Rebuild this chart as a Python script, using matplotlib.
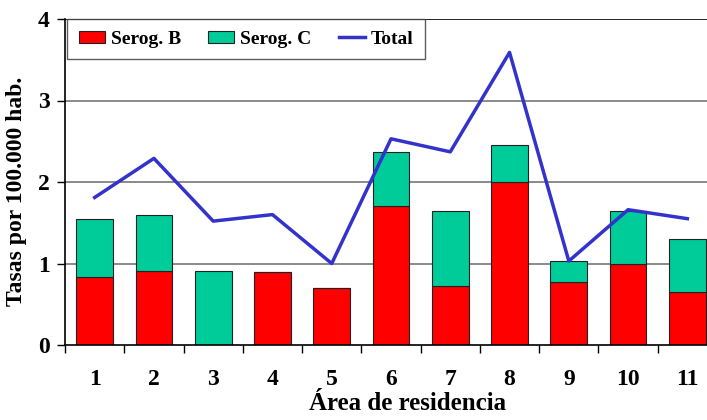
import numpy as np
import matplotlib
matplotlib.use('Agg')
import matplotlib.pyplot as plt
from matplotlib.ticker import FixedLocator

# Datos: tasas por 100.000 hab. segun area de residencia
areas = ['1', '2', '3', '4', '5', '6', '7', '8', '9', '10', '11']
serog_b = [0.83, 0.91, 0.0, 0.90, 0.70, 1.70, 0.72, 2.00, 0.77, 1.00, 0.65]
serog_c = [0.71, 0.685, 0.91, 0.0, 0.0, 0.67, 0.92, 0.45, 0.26, 0.64, 0.65]
total = [1.81, 2.29, 1.52, 1.60, 1.00, 2.53, 2.37, 3.59, 1.03, 1.66, 1.55]

plt.rcParams['font.family'] = 'Liberation Serif'
plt.rcParams['font.weight'] = 'bold'

fig = plt.figure(figsize=(7.07, 4.2), dpi=100)
# axes runs past the right edge of the figure like the original
ax = fig.add_axes([65/707, 75/420, 652/707, 326/420])

x = np.arange(len(areas))
b1 = ax.bar(x, serog_b, width=0.62, color='#ff0000', edgecolor='#222222', linewidth=0.8,
            label='Serog. B', zorder=2)
b2 = ax.bar(x, serog_c, width=0.62, bottom=serog_b, color='#00cc99', edgecolor='#222222',
            linewidth=0.8, label='Serog. C', zorder=2)
ln, = ax.plot(x, total, color='#3333cc', linewidth=2.5, label='Total', zorder=3)

ax.set_xlim(-0.5, len(areas) - 0.5)
ax.set_ylim(0, 4)
ax.set_yticks([0, 1, 2, 3, 4])
ax.set_xticks(x)
ax.set_xticklabels(areas)
ax.xaxis.set_minor_locator(FixedLocator(np.arange(-0.5, len(areas), 1.0)))
ax.tick_params(axis='x', which='major', length=0, pad=17, labelsize=17)
ax.tick_params(axis='x', which='minor', length=6, direction='out', width=1)
ax.tick_params(axis='y', length=6, direction='out', width=1, labelsize=17, pad=5)

for yv in [1, 2, 3]:
    ax.axhline(yv, color='#777777', linewidth=1.2, zorder=1)
ax.axhline(4, color='black', linewidth=1.2, zorder=1)

for s in ['top', 'right']:
    ax.spines[s].set_visible(False)
ax.spines['left'].set_linewidth(1.2)
ax.spines['bottom'].set_linewidth(1.2)

ax.set_ylabel('Tasas por 100.000 hab.', fontsize=17, fontweight='bold')
ax.yaxis.set_label_coords(-0.058, 0.47)
ax.set_xlabel('Área de residencia', fontsize=18, fontweight='bold')
ax.xaxis.set_label_coords(0.526, -0.145)

leg = ax.legend([b1, b2, ln], ['Serog. B', 'Serog. C', 'Total'],
                loc='upper left', ncol=3, frameon=True, fancybox=False, fontsize=14,
                bbox_to_anchor=(0.003, 1.0), borderaxespad=0, handlelength=1.35,
                handleheight=0.6, columnspacing=1.4, borderpad=0.6, handletextpad=0.3)
leg.get_frame().set_edgecolor('#333333')
leg.get_frame().set_linewidth(1.0)

fig.savefig('out.png', dpi=100)
